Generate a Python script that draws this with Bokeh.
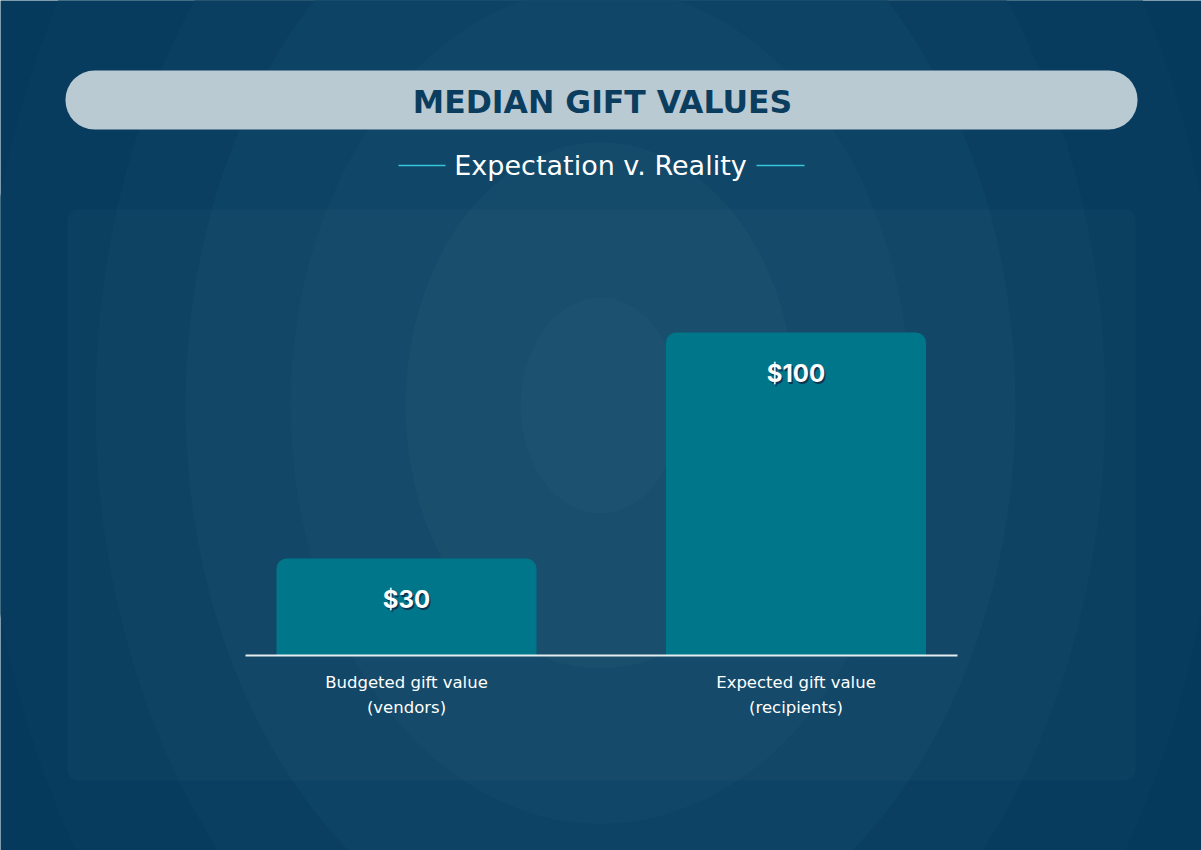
from bokeh.plotting import figure
from bokeh.models import Range1d
from bokeh.core.properties import value
from bokeh.embed import file_html
from bokeh.resources import INLINE

# ---- data ----
categories = ["Budgeted gift value (vendors)", "Expected gift value (recipients)"]
cat_line1 = ["Budgeted gift value", "Expected gift value"]
cat_line2 = ["(vendors)", "(recipients)"]
values = [30, 100]
value_labels = ["$" + str(v) for v in values]
title_text = "MEDIAN GIFT VALUES"
subtitle_text = "Expectation v. Reality"

W, H = 1201, 850
PX_PER_UNIT = 3.23          # pixels per dollar
BASE_FROM_BOTTOM = 195      # baseline position from bottom of canvas
PX_PER_CAT = 389.5          # pixels per category slot
FIRST_CENTER = 406          # first bar centre, px from left

xpos = [i + 0.5 for i in range(len(categories))]
x_start = 0.5 - FIRST_CENTER / PX_PER_CAT

p = figure(width=W, height=H, output_backend="svg", toolbar_location=None,
           x_range=Range1d(x_start, x_start + W / PX_PER_CAT),
           y_range=Range1d(-BASE_FROM_BOTTOM / PX_PER_UNIT, (H - BASE_FROM_BOTTOM) / PX_PER_UNIT),
           min_border=0, border_fill_color="#053a5c", background_fill_color="#053a5c",
           outline_line_color=None)
p.axis.visible = False
p.grid.visible = False

# pixel-space ranges for decoration (origin top-left of the canvas)
p.extra_x_ranges = {"px": Range1d(0, W)}
p.extra_y_ranges = {"px": Range1d(H, 0)}

# ---- radial background ----
ring_r = [620, 505, 415, 310, 195, 80]
ring_c = ["#073c5e", "#0a3f61", "#0d4364", "#104667", "#144a6a", "#174e6c"]
cx, cy = 600, 405
for r, c in zip(ring_r, ring_c):
    p.ellipse(x=[cx], y=[cy], width=2 * r, height=2 * r * 1.35, fill_color=c,
              line_color=None, x_range_name="px", y_range_name="px")

# ---- panel ----
p.quad(left=[67], right=[1135], top=[209], bottom=[780],
       fill_color="white", fill_alpha=0.025, line_color=None, border_radius=10,
       x_range_name="px", y_range_name="px")

# ---- title pill ----
p.quad(left=[65], right=[1137], top=[70], bottom=[129],
       fill_color="#b9cad3", line_color=None, border_radius=29,
       x_range_name="px", y_range_name="px")
p.text(x=[602], y=[101], text=[title_text], text_font=value("DejaVu Sans"),
       text_font_size="31.5px", text_font_style="bold", text_color="#0b3d5e",
       text_align="center", text_baseline="middle",
       x_range_name="px", y_range_name="px")

# ---- subtitle ----
p.text(x=[600], y=[165], text=[subtitle_text], text_font=value("DejaVu Sans"),
       text_font_size="27px", text_color="#ffffff",
       text_align="center", text_baseline="middle",
       x_range_name="px", y_range_name="px")
p.segment(x0=[398, 756], x1=[445, 804], y0=[165, 165], y1=[165, 165],
          line_color="#35c6d9", line_width=1.5,
          x_range_name="px", y_range_name="px")

# ---- bars ----
p.vbar(x=xpos, top=values, bottom=0, width=260 / PX_PER_CAT, fill_color="#00768a",
       line_color=None, border_radius=(10, 10, 0, 0))

# baseline
p.segment(x0=[245], x1=[957], y0=[0], y1=[0], line_color="#e4ecf0",
          line_width=2, x_range_name="px")

# value labels with shadow
p.text(x=xpos, y=values, text=value_labels, text_font=value("Inter"),
       text_font_size="24px", text_font_style="bold", text_color="#0c3552",
       text_align="center", text_baseline="middle", x_offset=1.5, y_offset=42.5)
p.text(x=xpos, y=values, text=value_labels, text_font=value("Inter"),
       text_font_size="24px", text_font_style="bold", text_color="#ffffff",
       text_align="center", text_baseline="middle", y_offset=41)

# category labels
p.text(x=xpos, y=[0] * len(xpos), text=cat_line1, text_font=value("DejaVu Sans"),
       text_font_size="16.5px", text_color="#ffffff",
       text_align="center", text_baseline="middle", y_offset=27)
p.text(x=xpos, y=[0] * len(xpos), text=cat_line2, text_font=value("DejaVu Sans"),
       text_font_size="16.5px", text_color="#ffffff",
       text_align="center", text_baseline="middle", y_offset=52)

open("out.html", "w").write(file_html(p, INLINE))
